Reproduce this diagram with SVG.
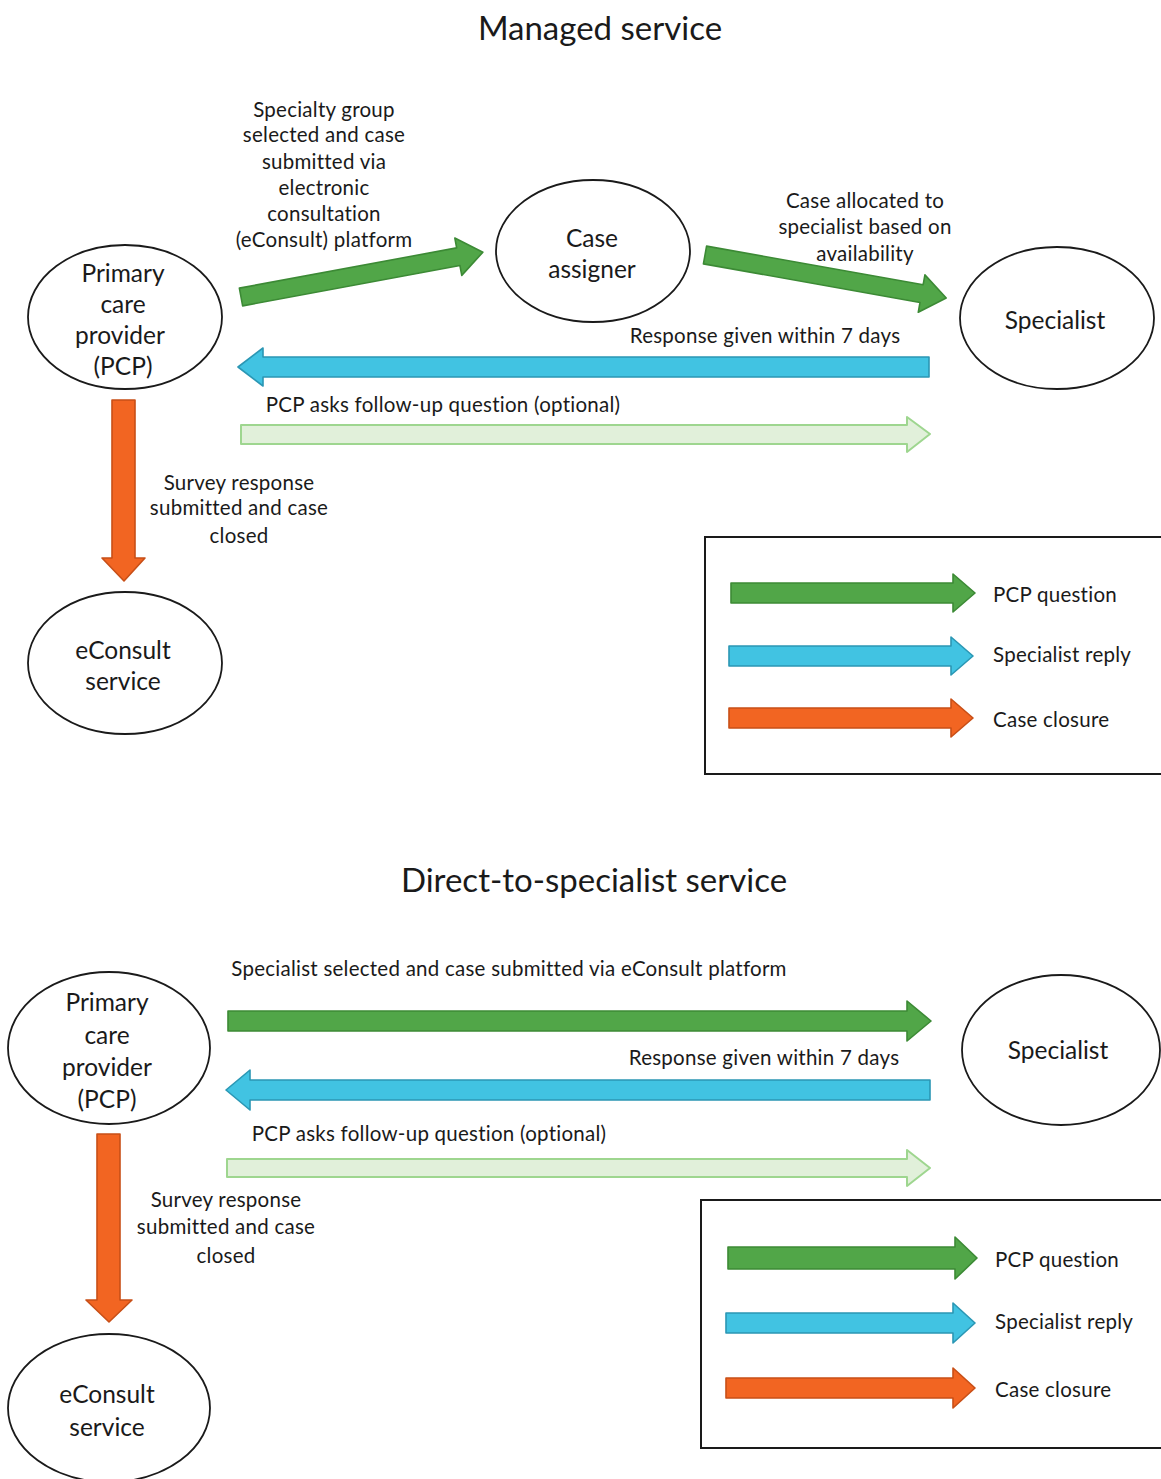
<svg xmlns="http://www.w3.org/2000/svg" width="1161" height="1479" viewBox="0 0 1161 1479">
<style>
text{font-family:Lato,"Liberation Sans",sans-serif;fill:#1a1a1a;text-anchor:middle;dominant-baseline:central}
.t{font-size:33px}
.n{font-size:24.5px}
.l{font-size:20.5px;letter-spacing:0.25px}
.node{fill:#fff;stroke:#1a1a1a;stroke-width:1.8}
.g{fill:#51a648;stroke:#3c8a35;stroke-width:1.6;stroke-linejoin:round}
.b{fill:#41c3e2;stroke:#2b97b4;stroke-width:1.6;stroke-linejoin:round}
.o{fill:#f26522;stroke:#c84f17;stroke-width:1.6;stroke-linejoin:round}
.lg{fill:#e1f0da;stroke:#9ed68f;stroke-width:2;stroke-linejoin:round}
.box{fill:none;stroke:#1a1a1a;stroke-width:2}
</style>
<rect width="1161" height="1479" fill="#fff"/>

<!-- ===== Managed service ===== -->
<text class="t" x="600" y="27">Managed service</text>

<g id="pcp1"><ellipse class="node" cx="125" cy="317" rx="97" ry="72"/>
<text class="n" x="123" y="272">Primary</text><text class="n" x="123" y="303">care</text><text class="n" x="120" y="334">provider</text><text class="n" x="123" y="365">(PCP)</text></g>
<g id="assigner"><ellipse class="node" cx="593" cy="251" rx="97" ry="71"/>
<text class="n" x="592" y="237">Case</text><text class="n" x="592" y="268">assigner</text></g>
<g id="spec1"><ellipse class="node" cx="1057" cy="318" rx="97" ry="71"/>
<text class="n" x="1055" y="319">Specialist</text></g>
<g id="econ1"><ellipse class="node" cx="125" cy="663" rx="97" ry="71"/>
<text class="n" x="123" y="649">eConsult</text><text class="n" x="123" y="680">service</text></g>

<g id="connectors1">
<path class="g" transform="translate(241,297) rotate(-10.5)" d="M0,-9 L221,-9 L221,-19 L246,0 L221,19 L221,9 L0,9 Z"/>
<path class="g" transform="translate(705,255) rotate(10.1)" d="M0,-9 L220,-9 L220,-19 L245,0 L220,19 L220,9 L0,9 Z"/>
<path class="b" d="M929,357 L263,357 L263,348 L238,367 L263,386 L263,377 L929,377 Z"/>
<path class="lg" d="M241,425 L907,425 L907,417 L930,434 L907,452 L907,444 L241,444 Z"/>
<path class="o" d="M112,400 L135,400 L135,558 L145,558 L124,581 L102,558 L112,558 Z"/>
</g>

<g id="labels1">
<text class="l" x="324" y="109">Specialty group</text>
<text class="l" x="324" y="134">selected and case</text>
<text class="l" x="324" y="161">submitted via</text>
<text class="l" x="324" y="187">electronic</text>
<text class="l" x="324" y="213">consultation</text>
<text class="l" x="324" y="239">(eConsult) platform</text>
<text class="l" x="865" y="200">Case allocated to</text>
<text class="l" x="865" y="226">specialist based on</text>
<text class="l" x="865" y="253">availability</text>
<text class="l" x="765" y="335">Response given within 7 days</text>
<text class="l" x="443" y="404">PCP asks follow-up question (optional)</text>
<text class="l" x="239" y="482">Survey response</text>
<text class="l" x="239" y="507">submitted and case</text>
<text class="l" x="239" y="535">closed</text>
</g>

<g id="legend1">
<rect class="box" x="705" y="537" width="470" height="237"/>
<path class="g" d="M731,583 L953,583 L953,574 L975,593 L953,612 L953,603 L731,603 Z"/>
<path class="b" d="M729,646 L951,646 L951,637 L973,656 L951,675 L951,666 L729,666 Z"/>
<path class="o" d="M729,708 L951,708 L951,699 L973,718 L951,737 L951,728 L729,728 Z"/>
<text class="l" x="993" y="594" style="text-anchor:start">PCP question</text>
<text class="l" x="993" y="654" style="text-anchor:start">Specialist reply</text>
<text class="l" x="993" y="719" style="text-anchor:start">Case closure</text>
</g>

<!-- ===== Direct-to-specialist service ===== -->
<text class="t" x="594" y="879">Direct-to-specialist service</text>

<g id="pcp2"><ellipse class="node" cx="109" cy="1048" rx="101" ry="76"/>
<text class="n" x="107" y="1001">Primary</text><text class="n" x="107" y="1034">care</text><text class="n" x="107" y="1066">provider</text><text class="n" x="107" y="1098">(PCP)</text></g>
<g id="spec2"><ellipse class="node" cx="1061" cy="1050" rx="99" ry="75"/>
<text class="n" x="1058" y="1049">Specialist</text></g>
<g id="econ2"><ellipse class="node" cx="109" cy="1408" rx="101" ry="74"/>
<text class="n" x="107" y="1393">eConsult</text><text class="n" x="107" y="1426">service</text></g>

<g id="connectors2">
<path class="g" d="M228,1011 L907,1011 L907,1001 L931,1021 L907,1041 L907,1031 L228,1031 Z"/>
<path class="b" d="M930,1080 L250,1080 L250,1070 L226,1090 L250,1110 L250,1100 L930,1100 Z"/>
<path class="lg" d="M227,1159 L907,1159 L907,1150 L930,1168 L907,1186 L907,1177 L227,1177 Z"/>
<path class="o" d="M97,1134 L120,1134 L120,1300 L132,1300 L109,1322 L86,1300 L97,1300 Z"/>
</g>

<g id="labels2">
<text class="l" x="509" y="968">Specialist selected and case submitted via eConsult platform</text>
<text class="l" x="764" y="1057">Response given within 7 days</text>
<text class="l" x="429" y="1133">PCP asks follow-up question (optional)</text>
<text class="l" x="226" y="1199">Survey response</text>
<text class="l" x="226" y="1226">submitted and case</text>
<text class="l" x="226" y="1255">closed</text>
</g>

<g id="legend2">
<rect class="box" x="701" y="1200" width="474" height="248"/>
<path class="g" d="M728,1247 L955,1247 L955,1237 L977,1258 L955,1279 L955,1269 L728,1269 Z"/>
<path class="b" d="M726,1313 L953,1313 L953,1303 L975,1323 L953,1343 L953,1333 L726,1333 Z"/>
<path class="o" d="M726,1378 L953,1378 L953,1368 L975,1388 L953,1408 L953,1398 L726,1398 Z"/>
<text class="l" x="995" y="1259" style="text-anchor:start">PCP question</text>
<text class="l" x="995" y="1321" style="text-anchor:start">Specialist reply</text>
<text class="l" x="995" y="1389" style="text-anchor:start">Case closure</text>
</g>
</svg>
